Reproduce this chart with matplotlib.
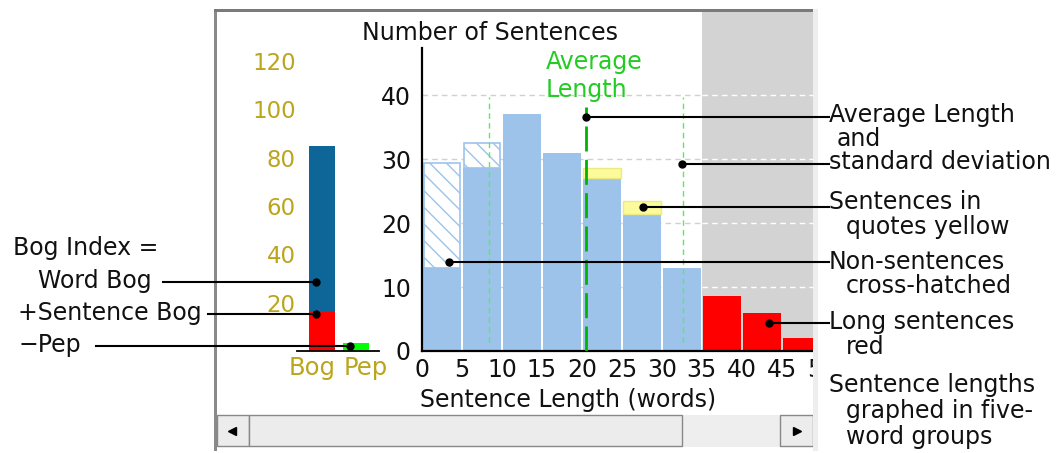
import matplotlib
matplotlib.use("Agg")
import matplotlib.pyplot as plt
from matplotlib.patches import Rectangle
from matplotlib.lines import Line2D
import numpy as np

# ---------------- data ----------------
bin_starts = [0, 5, 10, 15, 20, 25, 30, 35, 40, 45]
sentence_counts = [13.0, 28.6, 37.0, 31.0, 27.0, 21.4, 13.0, 8.6, 5.9, 2.0]
quote_counts = [0, 0, 0, 0, 1.6, 2.0, 0, 0, 0, 0]
non_sentence_counts = [16.4, 3.9, 0, 0, 0, 0, 0, 0, 0, 0]
long_threshold = 35
avg_length = 20.5
std_dev = 12.1
y_ticks = [0, 10, 20, 30, 40]
x_ticks = [0, 5, 10, 15, 20, 25, 30, 35, 40, 45, 50]

bog_categories = ["Bog", "Pep"]
sentence_bog = 16
word_bog = 69
pep = 3.5
bog_ticks = [20, 40, 60, 80, 100, 120]

# ---------------- styling ----------------
W, H = 1057, 453
FS = 17
plt.rcParams['font.family'] = ['DejaVu Sans']
BLUE = '#9dc3eb'
RED = '#ff0000'
YELLOW = '#fbfb9b'
OLIVE = '#bba51c'
GREEN_TXT = '#22cc22'

fig = plt.figure(figsize=(W / 100, H / 100), dpi=100)
fig.patch.set_facecolor('white')


def rect(x0, y0, x1, y1):
    return [x0 / W, 1 - y1 / H, (x1 - x0) / W, (y1 - y0) / H]


def prect(x0, y0, x1, y1, z=-1, **kw):
    fig.add_artist(Rectangle((x0 / W, 1 - y1 / H), (x1 - x0) / W, (y1 - y0) / H,
                             transform=fig.transFigure, zorder=z, **kw))


def pline(xs, ys, z=20, **kw):
    fig.add_artist(Line2D([x / W for x in xs], [1 - y / H for y in ys],
                          transform=fig.transFigure, zorder=z, **kw))


def ptext(x, y, s, **kw):
    fig.text(x / W, 1 - y / H, s, zorder=10, **kw)


# ---------------- window frame ----------------
prect(214, 9, 818, 451, z=-3, facecolor='white', edgecolor='none')
prect(214, 9, 217, 451, z=-2, facecolor='#8a8a8a', edgecolor='none')
prect(214, 9, 813, 12, z=-2, facecolor='#7a7a7a', edgecolor='none')
# right border drawn on top so that anything beyond the window is hidden
prect(813, 9, 818, 451, z=5, facecolor='#eeeeee', edgecolor='none')
prect(818, 352, 842, 380, z=5, facecolor='white', edgecolor='none')

# ---------------- main histogram ----------------
ax = fig.add_axes(rect(422, 12, 813, 351))
ax.set_zorder(1)
ax.set_facecolor('none')
xmax = 48.9
ax.set_yticks(y_ticks)
ax.set_xticks(x_ticks)
ax.set_xlim(0, xmax)
ax.set_ylim(0, 52.97)
ax.axvspan(long_threshold, xmax, color='#d3d3d3', zorder=0, lw=0)
for yv in y_ticks[1:]:
    ax.hlines(yv, 0, long_threshold, colors='#d0d0d0', linestyles=(0, (4, 3)), lw=1, zorder=0.5)
    ax.hlines(yv, long_threshold, xmax, colors='white', linestyles=(0, (4, 3)), lw=1, zorder=0.5)

starts = np.array(bin_starts, dtype=float)
sc = np.array(sentence_counts)
qc = np.array(quote_counts)
nc = np.array(non_sentence_counts)
bar_colors = [RED if s >= long_threshold else BLUE for s in bin_starts]
ax.bar(starts + 0.125, sc, width=4.75, align='edge', color=bar_colors, lw=0, zorder=2)
m = qc > 0
ax.bar(starts[m] + 0.125, qc[m], bottom=sc[m], width=4.75, align='edge',
       facecolor=YELLOW, edgecolor='#eeea80', lw=1, zorder=2)
m = nc > 0
ax.bar(starts[m] + 0.2, nc[m], bottom=sc[m], width=4.6, align='edge',
       facecolor='white', edgecolor=BLUE, hatch='\\\\', lw=1.2, zorder=2)

# average & standard deviation
ax.vlines(avg_length, 0, 38.2, colors='#00b400', lw=2, linestyles=(0, (9, 3)), zorder=3)
ax.vlines([avg_length - std_dev, avg_length + std_dev], 1.4, 39.7, colors='#55ee55',
          lw=1, linestyles=(0, (4, 3)), zorder=3)
ax.text(21.5, 45.2, "Average", color=GREEN_TXT, fontsize=FS, ha='center', va='center')
ax.text(20.6, 40.8, "Length", color=GREEN_TXT, fontsize=FS, ha='center', va='center')

for s in ['top', 'right']:
    ax.spines[s].set_visible(False)
ax.spines['left'].set_bounds(0, 47.3)
for s in ['left', 'bottom']:
    ax.spines[s].set_linewidth(1.6)
    ax.spines[s].set_color('black')
ax.tick_params(axis='both', length=0, labelsize=FS, colors='#111111')
ax.tick_params(axis='y', pad=8)
ax.tick_params(axis='x', pad=5)
# last tick label lies past the window edge (partly hidden by the frame)
ax.annotate(str(x_ticks[-1]), xy=(x_ticks[-1], 0), xytext=(0, -5), textcoords='offset points',
            ha='center', va='top', fontsize=FS, color='#111111', annotation_clip=False)
ax.set_xlabel("Sentence Length (words)", fontsize=FS, va='center', color='#111111')
ax.xaxis.set_label_coords((568 - 422) / 391, -(400 - 351) / 339)
ax.set_ylabel("Number of Sentences", fontsize=FS, rotation=0, ha='center', va='center',
              color='#111111')
ax.yaxis.set_label_coords((490 - 422) / 391, (351 - 33) / 339)

# ---------------- Bog / Pep bar ----------------
bax = fig.add_axes(rect(297, 351 - 130 * 2.415, 379, 351))
bax.set_zorder(1)
bax.set_facecolor('none')
bax.set_yticks(bog_ticks)
bax.set_xticks([])
bax.set_ylim(0, 130)
bax.set_xlim(-0.735, 1.676)
bax.bar([0], [sentence_bog], width=0.765, color=RED, lw=0)
bax.bar([0], [word_bog], bottom=[sentence_bog], width=0.765, color='#0d6598', lw=0)
bax.bar([1], [pep], width=0.765, color='#00ff00', lw=0)
for s in ['top', 'right', 'left']:
    bax.spines[s].set_visible(False)
bax.spines['bottom'].set_linewidth(1.3)
bax.tick_params(axis='y', length=0, pad=1, labelsize=FS - 0.5, labelcolor=OLIVE)
for i, name in enumerate(bog_categories):
    bax.text(i + (-0.29 if i == 0 else 0.29), -7.2, name, color=OLIVE, fontsize=FS + 0.5,
             ha='center', va='center')

# ---------------- scroll bar ----------------
prect(217, 415, 813, 447, z=-1, facecolor='#eeeeee', edgecolor='none')
prect(217, 415, 249, 446, z=-0.5, facecolor='#ececec', edgecolor='#888888', lw=1)
prect(249, 415, 682, 446, z=-0.5, facecolor='#ececec', edgecolor='#888888', lw=1)
prect(780, 415, 813, 446, z=-0.5, facecolor='#ececec', edgecolor='#888888', lw=1)
fig.add_artist(Line2D([232 / W], [1 - 431 / H], marker='<', ms=6, color='black',
                      transform=fig.transFigure, zorder=-0.2))
fig.add_artist(Line2D([797 / W], [1 - 431 / H], marker='>', ms=6, color='black',
                      transform=fig.transFigure, zorder=-0.2))

# ---------------- annotations ----------------
TC = '#111111'
ptext(13, 248, "Bog Index =", fontsize=FS, va='center', color=TC)
ptext(38, 281, "Word Bog", fontsize=FS, va='center', color=TC)
ptext(18, 313, "+Sentence Bog", fontsize=FS, va='center', color=TC)
ptext(18, 345, "\u2212Pep", fontsize=FS, va='center', color=TC)
pline([163, 316], [282, 282], color='black', lw=1.5)
pline([208, 316], [314, 314], color='black', lw=1.5)
pline([96, 350], [346, 346], color='black', lw=1.5)
for (x, y) in [(316, 282), (316, 314), (350, 346)]:
    pline([x], [y], color='black', marker='o', ms=5, lw=0)

right_lines = [(586, 117), (682, 164), (643, 207), (449, 262), (769, 323)]
for (x, y) in right_lines:
    pline([x, 829], [y, y], color='black', lw=1.5)
    pline([x], [y], color='black', marker='o', ms=5, lw=0)

right_texts = [
    (829, 115, "Average Length"), (837, 139, "and"), (829, 162, "standard deviation"),
    (829, 202, "Sentences in"), (846, 227, "quotes yellow"),
    (829, 262, "Non-sentences"), (846, 286, "cross-hatched"),
    (829, 322, "Long sentences"), (846, 347, "red"),
    (829, 385, "Sentence lengths"), (846, 411, "graphed in five-"), (846, 437, "word groups"),
]
for (x, y, s) in right_texts:
    ptext(x, y, s, fontsize=FS, va='center', color=TC)

fig.savefig("out.png", dpi=100, facecolor='white')
